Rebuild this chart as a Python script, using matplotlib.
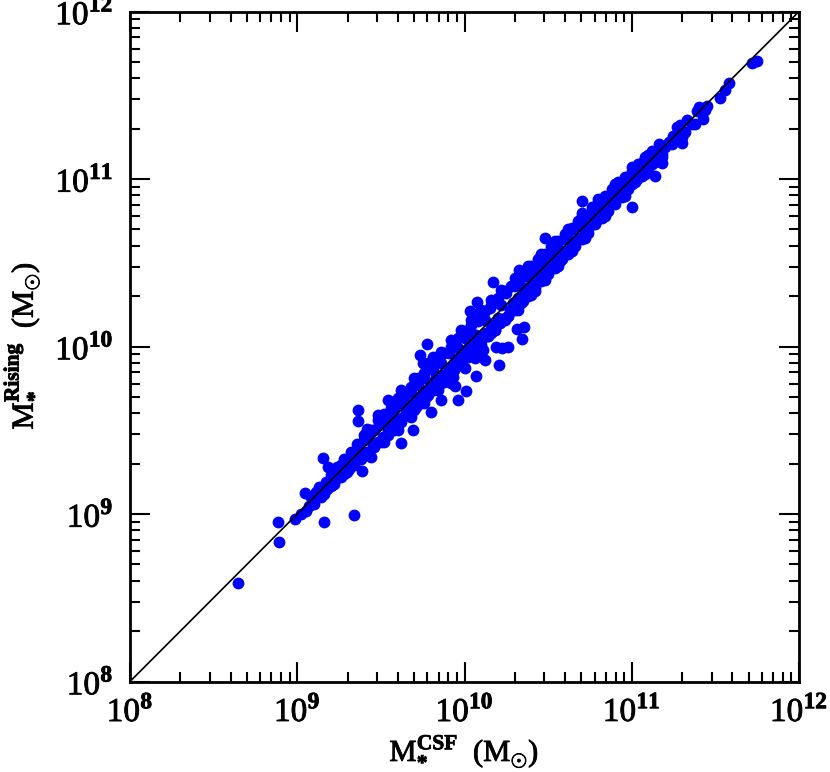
import matplotlib
matplotlib.use("Agg")
import matplotlib.pyplot as plt
import matplotlib.patheffects as pe
from matplotlib.ticker import FixedLocator, NullFormatter
import numpy as np

plt.rcParams['mathtext.fontset'] = 'custom'
plt.rcParams['mathtext.rm'] = 'Liberation Serif'
plt.rcParams['mathtext.bf'] = 'Liberation Serif:bold'
plt.rcParams['font.family'] = 'Liberation Serif'

# log10 stellar masses
outlier_csf = [8.648, 8.893, 8.883, 8.985, 9.162, 9.338, 9.046, 9.154, 9.182, 9.361,
               9.361, 9.385, 9.62, 9.69, 9.80, 9.544, 9.734, 9.75, 9.778, 9.813,
               9.86, 9.963, 10.01, 9.943, 10.208, 10.123, 10.188, 10.225, 10.262, 10.342,
               10.312, 10.358, 10.069, 10.033, 10.077, 10.172, 10.328, 10.481, 10.704, 11.0,
               10.70, 11.717, 11.747, 11.583, 11.558, 11.528, 11.452, 11.392, 11.424, 11.378,
               11.289, 11.319, 11.245, 11.30, 11.169, 11.139, 11.179, 11.10]
outlier_rising = [8.59, 8.834, 8.951, 8.971, 8.951, 8.993, 9.124, 9.337, 9.282, 9.62,
                  9.558, 9.256, 9.423, 9.503, 9.61, 9.678, 9.95, 9.90, 10.016, 9.936,
                  9.68, 9.68, 9.737, 9.767, 9.89, 9.922, 10.0, 9.99, 10.0, 10.044,
                  10.105, 10.115, 9.823, 10.209, 10.268, 10.384, 10.454, 10.647, 10.867, 10.832,
                  10.796, 11.695, 11.707, 11.572, 11.534, 11.482, 11.437, 11.405, 11.36, 11.327,
                  11.32, 11.28, 11.254, 11.214, 11.2, 11.017, 11.097, 11.144]

band_csf = [9.02, 9.05, 9.07, 9.08, 9.10, 9.11, 9.13, 9.14, 9.16, 9.17,
            9.18, 9.20, 9.22, 9.23, 9.25, 9.26, 9.28, 9.29, 9.31, 9.33,
            9.34, 9.36, 9.37, 9.39, 9.40, 9.42, 9.43, 9.45, 9.46, 9.48,
            9.49, 9.51, 9.52, 9.54, 9.55, 9.56, 9.58, 9.59, 9.60, 9.62,
            9.63, 9.64, 9.65, 9.67, 9.68, 9.70, 9.71, 9.72, 9.73, 9.75,
            9.76, 9.77, 9.78, 9.80, 9.81, 9.82, 9.83, 9.85, 9.86, 9.87,
            9.88, 9.90, 9.91, 9.92, 9.93, 9.95, 9.96, 9.97, 9.98, 10.00,
            10.01, 10.02, 10.03, 10.05, 10.06, 10.07, 10.08, 10.10, 10.11, 10.12,
            10.13, 10.14, 10.15, 10.16, 10.18, 10.19, 10.20, 10.21, 10.22, 10.24,
            10.25, 10.26, 10.27, 10.29, 10.30, 10.31, 10.32, 10.33, 10.35, 10.36,
            10.37, 10.38, 10.40, 10.41, 10.42, 10.43, 10.45, 10.46, 10.47, 10.48,
            10.49, 10.50, 10.52, 10.53, 10.54, 10.56, 10.57, 10.58, 10.60, 10.61,
            10.62, 10.64, 10.65, 10.66, 10.68, 10.69, 10.70, 10.72, 10.73, 10.74,
            10.76, 10.77, 10.78, 10.80, 10.81, 10.82, 10.84, 10.85, 10.86, 10.88,
            10.89, 10.90, 10.92, 10.93, 10.94, 10.96, 10.97, 10.98, 11.00, 11.01,
            11.03, 11.04, 11.06, 11.07, 11.09, 11.10, 11.12, 11.13, 11.15, 11.16,
            11.18, 11.20, 11.22, 11.24, 11.27, 11.30, 11.33, 11.36, 11.40, 11.44]
band_rising = [9.00, 9.02, 9.05, 9.10, 9.06, 9.13, 9.16, 9.10, 9.12, 9.19,
               9.15, 9.17, 9.20, 9.26, 9.22, 9.29, 9.24, 9.31, 9.27, 9.35,
               9.29, 9.33, 9.40, 9.35, 9.44, 9.37, 9.47, 9.41, 9.50, 9.43,
               9.53, 9.46, 9.57, 9.50, 9.60, 9.53, 9.63, 9.52, 9.57, 9.66,
               9.58, 9.70, 9.62, 9.63, 9.73, 9.67, 9.64, 9.77, 9.69, 9.72,
               9.81, 9.70, 9.74, 9.78, 9.86, 9.75, 9.82, 9.78, 9.90, 9.83,
               9.79, 9.85, 9.96, 9.88, 9.82, 9.92, 9.99, 9.89, 9.95, 10.05,
               9.94, 9.99, 10.10, 10.01, 9.93, 10.07, 10.15, 10.03, 9.98, 10.16,
               10.08, 10.06, 10.23, 10.13, 10.10, 10.28, 10.17, 10.14, 10.25, 10.17,
               10.32, 10.18, 10.22, 10.26, 10.36, 10.24, 10.29, 10.37, 10.27, 10.33,
               10.42, 10.30, 10.37, 10.45, 10.33, 10.41, 10.50, 10.40, 10.45, 10.54,
               10.43, 10.50, 10.47, 10.56, 10.50, 10.59, 10.51, 10.56, 10.64, 10.57,
               10.65, 10.60, 10.70, 10.63, 10.73, 10.65, 10.72, 10.69, 10.77, 10.70,
               10.81, 10.74, 10.80, 10.76, 10.85, 10.79, 10.87, 10.81, 10.89, 10.86,
               10.86, 10.92, 10.89, 10.96, 10.90, 10.99, 10.94, 11.01, 10.97, 11.04,
               11.00, 11.06, 11.03, 11.10, 11.06, 11.13, 11.09, 11.15, 11.12, 11.19,
               11.15, 11.19, 11.22, 11.21, 11.31, 11.25, 11.35, 11.33, 11.43, 11.41]

upper_csf = [9.20, 9.24, 9.28, 9.32, 9.36, 9.40, 9.44, 9.48, 9.52, 9.56,
             9.60, 9.64, 9.68, 9.72, 9.76, 9.80, 9.84, 9.88, 9.92, 9.96,
             10.00, 10.04, 10.08, 10.12, 10.16, 10.20, 10.24, 10.28, 10.32, 10.36,
             10.40, 10.44, 10.48, 10.52, 10.56, 10.60, 10.64, 10.68, 10.72, 10.76,
             10.80, 10.84, 10.88, 10.92, 10.96, 11.00, 11.04, 11.08, 11.12, 11.16]
upper_rising = [9.23, 9.28, 9.33, 9.37, 9.42, 9.47, 9.50, 9.56, 9.60, 9.63,
                9.69, 9.72, 9.76, 9.81, 9.84, 9.88, 9.93, 9.96, 10.00, 10.05,
                10.09, 10.13, 10.17, 10.21, 10.25, 10.29, 10.33, 10.36, 10.41, 10.44,
                10.48, 10.52, 10.55, 10.60, 10.63, 10.67, 10.71, 10.75, 10.78, 10.83,
                10.86, 10.90, 10.94, 10.98, 11.01, 11.05, 11.09, 11.13, 11.17, 11.21]

lower_csf = [9.22, 9.26, 9.30, 9.34, 9.38, 9.42, 9.46, 9.50, 9.54, 9.58,
             9.62, 9.66, 9.70, 9.74, 9.78, 9.82, 9.86, 9.90, 9.94, 9.98,
             10.02, 10.06, 10.10, 10.14, 10.18, 10.22, 10.26, 10.30, 10.34, 10.38,
             10.42, 10.46, 10.50, 10.54, 10.58, 10.62, 10.66, 10.70, 10.74, 10.78,
             10.82, 10.86, 10.90, 10.94, 10.98, 11.02, 11.06, 11.10, 11.14, 11.18]
lower_rising = [9.18, 9.22, 9.25, 9.30, 9.33, 9.36, 9.40, 9.43, 9.47, 9.50,
                9.55, 9.59, 9.62, 9.66, 9.71, 9.74, 9.78, 9.82, 9.86, 9.90,
                9.94, 9.98, 10.01, 10.06, 10.10, 10.15, 10.18, 10.22, 10.26, 10.31,
                10.35, 10.39, 10.43, 10.47, 10.52, 10.55, 10.60, 10.64, 10.68, 10.73,
                10.77, 10.81, 10.85, 10.89, 10.94, 10.98, 11.02, 11.06, 11.10, 11.13]

outer_csf = [9.42, 9.48, 9.56, 9.62, 9.70, 9.78, 9.86, 9.92, 9.98, 10.04,
             10.10, 10.16, 10.22, 10.30, 10.38, 10.46, 10.54, 10.62, 10.70, 10.80,
             10.90, 11.00, 9.44, 9.52, 9.60, 9.68, 9.76, 9.84, 9.92, 10.00,
             10.08, 10.16, 10.24, 10.32, 10.40, 10.48, 10.56, 10.64, 10.72, 10.84,
             10.96, 11.08]
outer_rising = [9.51, 9.59, 9.67, 9.74, 9.81, 9.90, 9.97, 10.04, 10.10, 10.16,
                10.22, 10.28, 10.34, 10.41, 10.48, 10.55, 10.63, 10.70, 10.78, 10.88,
                10.97, 11.07, 9.34, 9.43, 9.50, 9.58, 9.66, 9.74, 9.78, 9.87,
                9.96, 10.08, 10.16, 10.22, 10.31, 10.40, 10.48, 10.57, 10.65, 10.78,
                10.90, 11.03]

decades = [8, 9, 10, 11, 12]
unity = [1e8, 1e12]

fig = plt.figure(figsize=(8.30, 7.72), dpi=100)
ax = fig.add_axes([130 / 830, 1 - 681.5 / 772, 669 / 830, 670 / 772])

x = 10 ** np.array(outlier_csf + band_csf + upper_csf + lower_csf + outer_csf)
y = 10 ** np.array(outlier_rising + band_rising + upper_rising + lower_rising + outer_rising)
ax.plot(x, y, 'o', color='#0000ff', markersize=8.5, markeredgewidth=0, zorder=2)
ax.plot(unity, unity, color='black', lw=1.2, zorder=3)

ax.set_xscale('log')
ax.set_yscale('log')
ax.set_xlim(1e8, 1e12)
ax.set_ylim(1e8, 1e12)

major = [10.0 ** d for d in decades]
minor = [m * 10.0 ** d for d in decades[:-1] for m in range(2, 10)]
labels = [r'$\mathrm{10}^{\mathbf{%d}}$' % d for d in decades]
for axis in (ax.xaxis, ax.yaxis):
    axis.set_major_locator(FixedLocator(major))
    axis.set_minor_locator(FixedLocator(minor))
    axis.set_minor_formatter(NullFormatter())
ax.set_xticklabels(labels)
ax.set_yticklabels(labels)

ax.tick_params(which='major', direction='in', top=True, right=True, length=14.5, width=1.5)
ax.tick_params(which='minor', direction='in', top=True, right=True, length=7.5, width=1.5)
ax.tick_params(axis='x', which='major', labelsize=24, pad=10)
ax.tick_params(axis='y', which='major', labelsize=24, pad=12)
for s in ax.spines.values():
    s.set_linewidth(2)

# thicken the text a little, the original font is heavy
heavy = [pe.withStroke(linewidth=0.6, foreground='black')]
for t in ax.get_xticklabels() + ax.get_yticklabels():
    t.set_path_effects(heavy)

fig.text(464 / 830, 1 - 752 / 772, r'$\mathrm{M}_{\mathbf{*}}^{\mathbf{CSF}}\ \,(\mathrm{M}_{\odot})$',
         fontsize=22, ha='center', va='center', path_effects=heavy)
fig.text(22 / 830, 1 - 346 / 772, r'$\mathrm{M}_{\mathbf{*}}^{\mathbf{Rising}}\ \,(\mathrm{M}_{\odot})$',
         fontsize=22, ha='center', va='center', rotation=90, path_effects=heavy)

fig.savefig("out.png", dpi=100)
plt.close(fig)
